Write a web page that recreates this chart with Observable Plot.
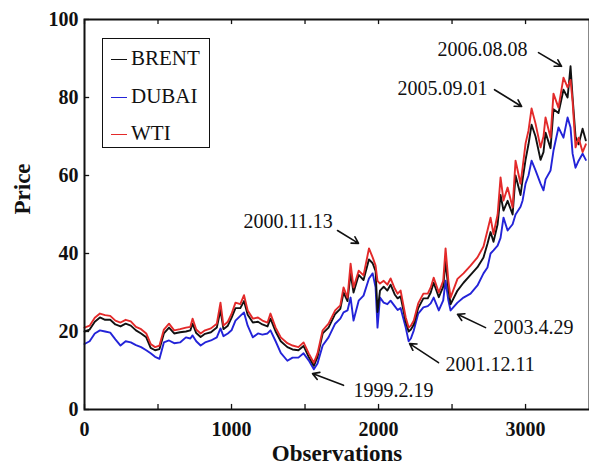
<!DOCTYPE html>
<html>
<head>
<meta charset="utf-8">
<script src="https://cdn.jsdelivr.net/npm/d3@7"></script>
<script src="https://cdn.jsdelivr.net/npm/@observablehq/plot@0.6"></script>
<style>
  body { margin: 0; background: #fff; }
  #chart { position: relative; width: 589px; height: 470px; overflow: hidden; }
  .legend {
    position: absolute; left: 102px; top: 38px; width: 108px; height: 110px;
    box-sizing: border-box; border: 1.5px solid #111; background: #fff;
    font-family: "Liberation Serif", "Times New Roman", serif; font-size: 21px; color: #111;
  }
  .legend .row { position: absolute; left: 8px; height: 24px; line-height: 24px; white-space: nowrap; }
  .legend .sw { display: inline-block; width: 16px; height: 0; border-top: 1.5px solid; vertical-align: middle; margin-right: 4px; position: relative; top: -1px; }
</style>
</head>
<body>
<div id="chart"></div>
<script>
// Daily crude oil spot prices, sampled along the observation index
const obs = [0,35,70,105,140,175,210,245,280,315,350,385,420,450,480,510,540,575,610,650,690,720,735,760,790,820,860,900,925,945,975,1000,1027,1060,1085,1110,1145,1180,1210,1245,1265,1300,1335,1380,1415,1455,1490,1525,1560,1585,1620,1660,1705,1740,1762,1789,1810,1830,1865,1898,1935,1960,1980,1993,2010,2035,2060,2082,2110,2130,2150,2185,2205,2220,2240,2270,2305,2335,2355,2375,2410,2440,2456,2475,2490,2537,2578,2626,2673,2714,2741,2762,2782,2810,2830,2850,2878,2912,2932,2966,2980,3000,3020,3041,3068,3102,3122,3136,3170,3190,3224,3258,3286,3306,3320,3340,3361,3388,3410];

const wti = [21,21.5,23.5,24.6,24.2,24,22.8,22.3,23,22.6,21.2,20.6,19.5,16.8,16,16.4,20.5,22,20.3,20.6,21,21.2,23.3,20.5,19.5,20.3,20.8,22,27.4,21.5,22.5,24.5,27.4,27,29.3,25.4,23.3,23.6,22.8,22.3,24.6,21,18.5,17,16.4,16,17.2,14.4,12,14.4,20.3,22,25.4,26.7,31.3,28.7,37.4,31.3,35.6,34.4,41.3,39,36.9,33,32.3,33,32,33.6,31,29.7,30.5,23.6,21,21.5,22.8,27.2,29.7,29.7,31.3,33.8,30,33,41.3,33,28.7,33.5,34.9,36.9,39,41.8,45.9,49.2,45,50,59.5,53.6,56.9,51.8,63.8,57.9,62,68.2,71.5,77.2,73.3,67.2,70,74.9,69.7,81,77.4,85.1,82.6,84.5,79,67.2,69.7,66,68];

const brent = [20,20.5,22.5,23.6,23,23,21.8,21.3,22,21.5,20.3,19.5,18.5,15.8,15.2,15.5,19.5,21,19.5,19.8,20,20.3,22,19.6,18.6,19.4,19.8,21,25.5,20.6,21.5,23.5,26,26,27.8,24.3,22.3,22.5,21.8,21.3,23.3,20,17.5,16,15.4,15.2,16.3,13.5,11.2,13.5,19.5,21,24.5,25.8,30,27.8,35,30,34.5,33.2,38.5,37.5,35.5,25,30.5,31.5,30.5,32,29.5,28.5,29,22.5,20,20.5,21.8,26,28.5,28.5,30,32.5,28.8,31.5,38,31,27,30.5,32.5,34.5,36.5,39,42.5,45.5,43,47.5,55,51,53.5,50,60,55,59,64,68,73,70,64,66,71,67,77,76,82,80,88,80,70,68,72,69];

const dubai = [16.8,17.5,19.5,20.3,20,19.7,18,16.4,17.5,17.2,16.5,16,15.2,14.4,13.5,13,17.2,17.7,17,17.2,18.5,18.2,19,17.5,16.4,17.2,17.7,18.5,20.8,18.8,19.5,20.3,22.8,24,24.9,21.5,18.5,19.5,19.2,19.5,20.3,17.5,14.5,12.5,13.3,13.3,14.4,12.6,10.3,11.8,16.4,18.5,22,23.3,24.9,25.4,28.7,22.8,27.9,29.2,33.6,34.9,31.3,21,28.7,27.4,27,27.9,26.5,25.5,26,21,17.5,18.2,20.3,24.6,26.2,26.5,27.2,28.7,25.4,28,33,28,25.4,27.4,28.7,29.7,31.8,34.9,36.4,40,40.8,42,44,49.2,45.9,47.5,50,52,53.6,57.9,60,63.8,61.3,57.9,56.2,59,61.3,66.4,72.3,69.7,74.9,72.3,65.6,62,63.8,65.6,64];

const xTicks = [0, 1000, 2000, 3000];
const xMinor = [0, 500, 1000, 1500, 2000, 2500, 3000];
const yTicks = [0, 20, 40, 60, 80, 100];

const seriesNames = ["BRENT", "DUBAI", "WTI"];
const seriesColors = ["#111111", "#2323d8", "#e32a2a"];

// Dated events called out on the chart
const notes = [
  {label: "2006.08.08", x: 2401, y: 92.3, x1: 3088, y1: 91.5, x2: 3245, y2: 88.0},
  {label: "2005.09.01", x: 2129, y: 82.3, x1: 2789, y1: 82.0, x2: 2973, y2: 77.7},
  {label: "2000.11.13", x: 1082, y: 48.2, x1: 1721, y1: 45.9, x2: 1864, y2: 42.6},
  {label: "2003.4.29",  x: 2782, y: 21.0, x1: 2728, y1: 21.0, x2: 2537, y2: 24.4},
  {label: "2001.12.11", x: 2456, y: 11.5, x1: 2408, y1: 12.0, x2: 2211, y2: 16.9},
  {label: "1999.2.19",  x: 1830, y: 4.9,  x1: 1762, y1: 6.2,  x2: 1551, y2: 9.2}
];

const rows = [];
const byName = {BRENT: brent, DUBAI: dubai, WTI: wti};
for (const name of ["DUBAI", "BRENT", "WTI"]) {
  byName[name].forEach((v, i) => rows.push({series: name, obs: obs[i], price: v}));
}

const serif = "'Liberation Serif', 'Times New Roman', serif";

const chart = Plot.plot({
  width: 589,
  height: 470,
  marginLeft: 84,
  marginRight: 0,
  marginTop: 19,
  marginBottom: 61,
  style: {fontFamily: serif, fontSize: "20px", fontWeight: "bold", color: "#111", background: "#fff"},
  x: {domain: [0, 3435], axis: null},
  y: {domain: [0, 100], axis: null},
  color: {domain: seriesNames, range: seriesColors},
  marks: [
    Plot.line(rows, {x: "obs", y: "price", z: "series", stroke: "series", strokeWidth: 1.9, strokeLinejoin: "round"}),
    // inward tick marks
    Plot.ruleX(xMinor, {x: d => d, y1: 0, y2: 1.3, stroke: "#111", strokeWidth: 1.3}),
    Plot.ruleX(xMinor, {x: d => d, y1: 98.7, y2: 100, stroke: "#111", strokeWidth: 1.3}),
    Plot.ruleY(yTicks, {y: d => d, x1: 0, x2: 35, stroke: "#111", strokeWidth: 1.3}),
    Plot.frame({stroke: "#111", strokeWidth: 2}),
    Plot.axisX(xTicks, {tickSize: 0, tickPadding: 12, fontWeight: "bold", tickFormat: d => String(d)}),
    Plot.axisY(yTicks, {tickSize: 0, tickPadding: 6, fontWeight: "bold", tickFormat: d => String(d)}),
    Plot.text(["Price"], {frameAnchor: "left", dx: -62, rotate: -90, fontSize: 23, fontWeight: "bold"}),
    Plot.text(["Observations"], {frameAnchor: "bottom", dy: 51, fontSize: 23, fontWeight: "bold"}),
    // event annotations
    Plot.arrow(notes, {x1: "x1", y1: "y1", x2: "x2", y2: "y2", stroke: "#111", strokeWidth: 1.6, headLength: 7}),
    Plot.text(notes, {x: "x", y: "y", text: "label", textAnchor: "start", fontSize: 20, fontWeight: "normal", fill: "#111"})
  ]
});

const host = document.getElementById("chart");
host.appendChild(chart);

// legend box inside the plot area
const legend = document.createElement("div");
legend.className = "legend";
const centers = [19, 57, 94];
seriesNames.forEach((name, i) => {
  const row = document.createElement("div");
  row.className = "row";
  row.style.top = (centers[i] - 12) + "px";
  const sw = document.createElement("span");
  sw.className = "sw";
  sw.style.borderTopColor = seriesColors[i];
  row.appendChild(sw);
  row.appendChild(document.createTextNode(name));
  legend.appendChild(row);
});
host.appendChild(legend);
</script>
</body>
</html>
